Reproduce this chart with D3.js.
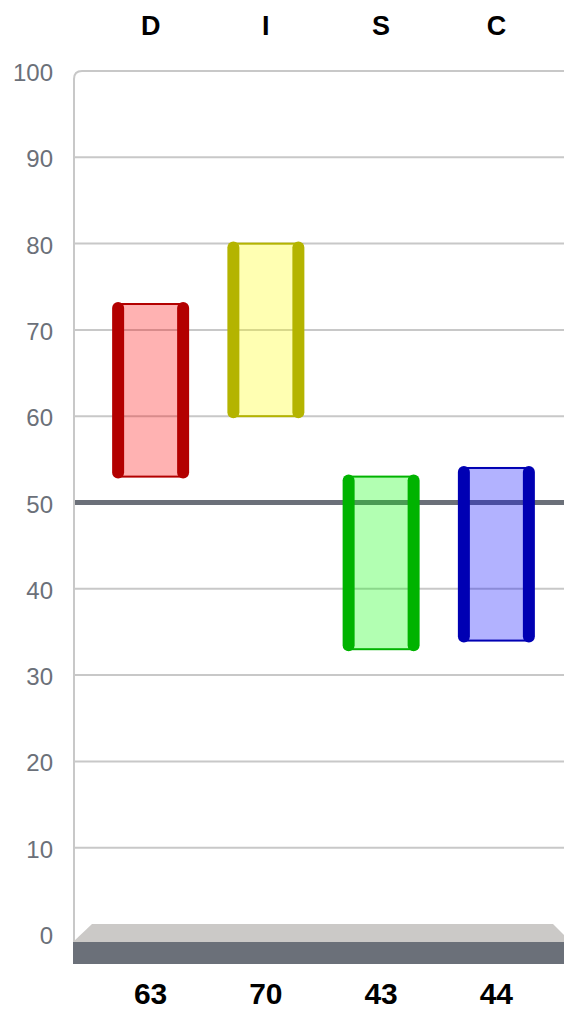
<!DOCTYPE html>
<html>
<head>
<meta charset="utf-8">
<script src="https://cdn.jsdelivr.net/npm/d3@7"></script>
<style>
  html, body { margin: 0; padding: 0; background: #fff; }
  svg { display: block; font-family: "Liberation Sans", Arial, sans-serif; }
</style>
</head>
<body>
<div id="chart"></div>
<script>
var width = 564, height = 1009;

// data
var categories = ["D", "I", "S", "C"];
var lowValues = [53, 60, 33, 34];
var highValues = [73, 80, 53, 54];
var scoreLabels = [63, 70, 43, 44];
var yTicks = [0, 10, 20, 30, 40, 50, 60, 70, 80, 90, 100];
var midLine = 50;

var fills = ["rgba(255,0,0,0.3)", "rgba(255,255,0,0.3)", "rgba(0,255,0,0.3)", "rgba(0,0,255,0.3)"];
var strokes = ["#b30000", "#b4b400", "#00b300", "#0000b3"];

var plotLeft = 74, plotTop = 71;

var svg = d3.select("#chart").append("svg")
    .attr("width", width)
    .attr("height", height);

var y = d3.scaleLinear().domain([0, 100]).range([934, 71]);
var x = d3.scaleBand().domain(categories).range([93, 554]);

// grid lines
svg.append("g").selectAll("line")
    .data(yTicks.filter(function(d) { return d > 0 && d < 100 && d != midLine; }))
    .enter().append("line")
    .attr("x1", plotLeft).attr("x2", width)
    .attr("y1", function(d) { return y(d); })
    .attr("y2", function(d) { return y(d); })
    .attr("stroke", "#c8c8c8")
    .attr("stroke-width", 2);

// frame: left axis + top line with rounded corner
var r = 8;
svg.append("path")
    .attr("d", "M" + plotLeft + ",942 L" + plotLeft + "," + (plotTop + r) +
      " Q" + plotLeft + "," + plotTop + " " + (plotLeft + r) + "," + plotTop +
      " L" + width + "," + plotTop)
    .attr("fill", "none")
    .attr("stroke", "#c8c8c8")
    .attr("stroke-width", 2);

// 50 line
svg.append("line")
    .attr("x1", plotLeft + 1).attr("x2", width)
    .attr("y1", y(midLine)).attr("y2", y(midLine))
    .attr("stroke", "#6b7079")
    .attr("stroke-width", 5);

// floor
svg.append("path")
    .attr("d", "M" + (plotLeft - 1) + ",942 L92,924 L553,924 L571,942 Z")
    .attr("fill", "#cbc9c7");
svg.append("rect")
    .attr("x", plotLeft - 1).attr("y", 942)
    .attr("width", width - plotLeft + 1).attr("height", 22)
    .attr("fill", "#6b7079");

// y tick labels
svg.append("g").selectAll("text")
    .data(yTicks)
    .enter().append("text")
    .attr("x", 53)
    .attr("y", function(d) { return y(d) + 10; })
    .attr("text-anchor", "end")
    .attr("font-size", 24)
    .attr("fill", "#6b7079")
    .text(function(d) { return d; });

// bars
var half = 32.5;
var bars = svg.append("g").selectAll("g")
    .data(categories)
    .enter().append("g");

bars.append("rect")
    .attr("x", function(d) { return x(d) + x.bandwidth() / 2 - half; })
    .attr("y", function(d, i) { return y(highValues[i]); })
    .attr("width", half * 2)
    .attr("height", function(d, i) { return y(lowValues[i]) - y(highValues[i]); })
    .attr("fill", function(d, i) { return fills[i]; })
    .attr("stroke", function(d, i) { return strokes[i]; })
    .attr("stroke-width", 2);

[-1, 1].forEach(function(side) {
  bars.append("line")
      .attr("x1", function(d) { return x(d) + x.bandwidth() / 2 + side * half; })
      .attr("x2", function(d) { return x(d) + x.bandwidth() / 2 + side * half; })
      .attr("y1", function(d, i) { return y(highValues[i]) + 4; })
      .attr("y2", function(d, i) { return y(lowValues[i]) - 4; })
      .attr("stroke", function(d, i) { return strokes[i]; })
      .attr("stroke-width", 12)
      .attr("stroke-linecap", "round");
});

// top category labels
svg.append("g").selectAll("text")
    .data(categories)
    .enter().append("text")
    .attr("x", function(d) { return x(d) + x.bandwidth() / 2; })
    .attr("y", 35)
    .attr("text-anchor", "middle")
    .attr("font-size", 27)
    .attr("font-weight", "bold")
    .attr("fill", "#000")
    .text(function(d) { return d; });

// bottom score labels
svg.append("g").selectAll("text")
    .data(scoreLabels)
    .enter().append("text")
    .attr("x", function(d, i) { return x(categories[i]) + x.bandwidth() / 2; })
    .attr("y", 1004)
    .attr("text-anchor", "middle")
    .attr("font-size", 30)
    .attr("font-weight", "bold")
    .attr("fill", "#000")
    .text(function(d) { return d; });
</script>
</body>
</html>
